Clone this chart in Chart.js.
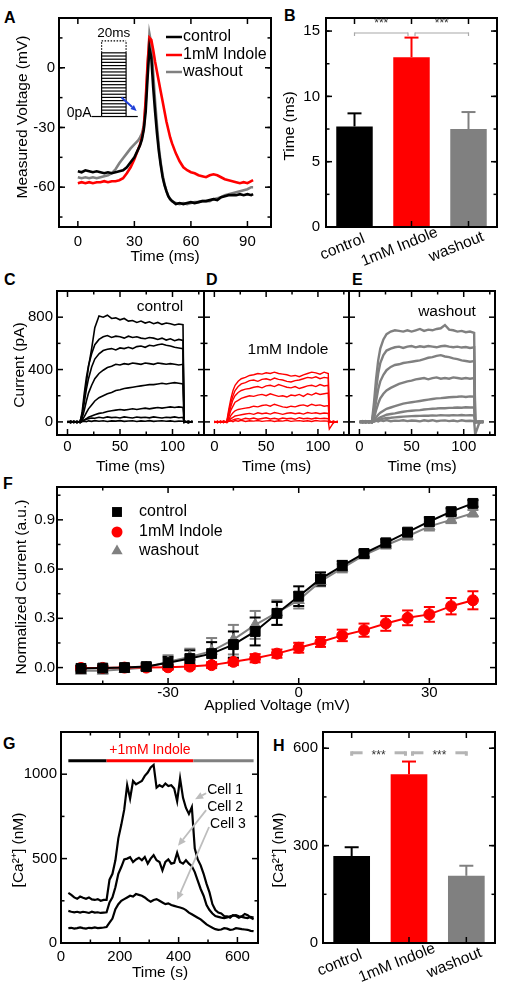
<!DOCTYPE html>
<html>
<head>
<meta charset="utf-8">
<title>Indole figure</title>
<script src="https://cdn.jsdelivr.net/npm/chart.js@4.4.1/dist/chart.umd.min.js"></script>
<style>
  html, body { margin: 0; padding: 0; background: #fff; }
  #fig { position: relative; width: 507px; height: 989px; overflow: hidden; background: #fff; }
  #fig canvas { position: absolute; }
  .lt { position: absolute; font: bold 16px 'Liberation Sans', Arial, sans-serif; line-height: 16px; color: #000; }
</style>
</head>
<body>
<div id="fig">
  <div class="lt" style="left:4px;top:10px">A</div>
  <div class="lt" style="left:284px;top:8px">B</div>
  <div class="lt" style="left:4px;top:272px">C</div>
  <div class="lt" style="left:206px;top:272px">D</div>
  <div class="lt" style="left:352px;top:272px">E</div>
  <div class="lt" style="left:3px;top:476px">F</div>
  <div class="lt" style="left:3px;top:736px">G</div>
  <div class="lt" style="left:273px;top:738px">H</div>
</div>
<script>
// ---------- data ----------

// A: membrane voltage traces (ms, mV)
const tA = [0,2,4,6,8,10,12,14,16,18,20,22,24,26,28,30,32,33,34,35,36,37,38,39,40,41,42,43,44,45,46,47,48,49,50,52,54,56,58,60,62,64,66,68,70,72,74,76,78,80,82,84,86,88,90,92,93];
const vControl = [-52,-52.5,-51.5,-52,-52.5,-52,-52.5,-53,-52.5,-53,-52.5,-52,-51.5,-50,-47.5,-45,-41,
  -39,-36,-31,-22,-5,10,5,-10,-22,-33,-42,-49,-55,-59,-62,-64.5,-66,-67,
  -68.5,-68,-68.5,-68,-67.5,-68,-67.5,-67,-67,-66.5,-66,-66.5,-65,-64.5,-64,-64,-64,-63.5,-64,-63.5,-64,-63.5];
const vIndole = [-58,-57.5,-58,-57.5,-58,-57.5,-57.5,-57,-57.5,-57,-57,-56.5,-55.5,-53,-50,-46,-41,
  -38.5,-35,-30,-16,2,15,14,9,3,-2,-7,-12,-17,-22,-27,-31,-35,-38,
  -43,-47,-50,-51.5,-52.5,-53,-54,-54.5,-55,-54,-53.5,-54,-55,-56,-56.5,-57,-57.5,-58,-57.5,-58,-57,-56.5];
const vWash = [-55,-55.5,-55,-55.5,-55,-55.5,-55,-54.5,-54,-53,-51,-48,-45.5,-43,-40.5,-38.5,-36.5,
  -35,-33,-29,-18,0,17,12,-3,-17,-29,-40,-48,-54,-58.5,-62,-64.5,-66,-67,
  -68,-68.5,-68,-68.5,-68,-67.5,-67.5,-67,-67,-67,-66,-65.5,-65,-64,-63.5,-63,-62.5,-62,-61.5,-61,-60,-60];
const ticksAx = [0, 30, 60, 90];
const ticksAy = [-60, -30, 0];
// inset: current step protocol, drawn in the voltage axes
const stimT = [7.3, 12.6, 25.6, 31.8];
const stimLevels = [-24.5,-22.9,-21.3,-19.7,-18.1,-16.5,-14.9,-13.3,-11.7,-10.1,-8.5,-6.9,-5.3,-3.7,-2.1,-0.5,1.1,2.7,4.3,5.9,7.5];

// B: time to threshold
const groups = ['control', '1mM Indole', 'washout'];
const timeMean = [7.7, 13.0, 7.5];
const timeErr = [1.0, 1.5, 1.3];
const ticksBy = [0, 5, 10, 15];

// C-E: current traces (ms, pA)
const tCur = [0,3,6,9,12,14,16,18,20,23,26,30,34,38,42,46,50,54,58,62,66,70,74,78,82,86,90,94,98,102,106,110,111,115,119];
const curControl = [
  [5,-8,6,-5,3, 60,180,300,420,560,720, 810,800,815,790,795,780,790,770,775,760,770,755,765,750,760,745,755,750,740,748,742, 10,-5,5],
  [-4,6,-6,4,-3, 80,220,340,430,520,590, 630,650,660,645,655,650,640,655,645,650,640,635,645,640,630,640,625,635,620,630,622, 5,-5,3],
  [3,-5,5,-4,6, 50,150,250,330,420,480, 520,545,555,560,550,565,560,570,560,575,580,570,585,580,590,595,585,580,570,565,560, -3,5,-4],
  [-5,4,-3,5,-4, 30,90,160,220,280,330, 370,395,415,425,440,435,445,440,450,445,440,450,445,440,450,445,440,445,440,435,440, 4,-3,5],
  [4,-4,3,-5,5, 15,40,70,100,130,160, 185,200,215,225,240,245,255,260,265,270,275,280,285,285,290,295,290,295,300,295,290, -4,5,-3],
  [-3,5,-4,3,-5, 5,15,25,35,45,55, 65,70,80,85,90,95,90,95,100,95,100,105,100,105,110,105,110,115,110,115,110, 3,-4,4],
  [5,-3,4,-5,3, 8,15,20,25,30,28, 35,30,38,33,36,30,38,34,30,37,33,36,31,38,34,30,36,33,38,32,35, -5,4,-3],
  [-4,5,-3,4,-5, 3,6,2,8,4,10, 5,9,3,8,6,10,4,7,9,3,8,5,10,4,7,9,5,8,3,6,5, 4,-5,3]
];
const curIndole = [
  [4,-6,5,-4,6, 100,180,240,280,310,330, 340,355,360,370,365,375,370,380,370,365,360,350,355,345,360,370,380,375,365,380,370, 8,-6,4],
  [-5,5,-4,6,-3, 80,150,200,240,270,290, 300,315,320,310,325,330,320,335,325,320,310,305,315,320,330,340,335,345,330,340,335, -4,5,-5],
  [3,-4,6,-5,4, 60,120,170,200,225,240, 250,255,265,270,260,275,280,270,285,275,265,260,270,255,265,275,280,270,285,275,280, 5,-4,3],
  [-4,5,-5,3,-6, 40,90,120,150,165,180, 190,200,195,205,210,200,215,205,195,200,190,205,200,210,195,215,205,220,210,215,220, -5,4,-4],
  [5,-4,4,-5,5, 20,50,70,85,95,100, 105,110,120,115,125,130,120,135,125,115,110,120,115,125,130,120,135,125,130,120,125, 4,-5,5],
  [-3,4,-5,6,-4, 10,25,35,45,50,55, 60,65,58,70,62,68,60,72,65,58,66,70,62,68,60,72,65,70,62,68,65, -4,5,-4],
  [4,-5,3,-4,5, 5,10,15,20,25,18, 28,22,30,20,26,32,22,28,20,30,24,28,20,32,24,28,22,30,25,28,24, 5,-4,4],
  [-5,4,-4,5,-3, 4,8,2,10,5,12, 3,9,6,11,4,8,10,3,9,6,12,4,8,10,5,9,3,11,6,8,5, -55,-5,4]
];
const curWash = [
  [5,-5,6,-4,4, 150,330,470,560,630,670, 690,700,695,690,700,690,700,710,695,705,700,710,715,740,705,700,690,695,685,690,680, 5,-5,4],
  [-4,6,-5,5,-3, 100,250,370,450,510,545, 560,570,575,565,575,580,570,578,572,580,575,570,578,582,575,570,575,568,572,565,570, -4,5,-4],
  [4,-4,5,-5,6, 60,160,250,310,360,395, 420,435,440,450,455,460,465,470,480,490,495,505,510,500,495,485,480,470,465,460,465, 4,-5,5],
  [-5,5,-4,4,-5, 30,90,140,180,215,240, 260,275,290,300,310,315,325,330,335,325,335,340,330,335,330,340,335,330,335,330,335, -5,4,-5],
  [5,-4,5,-5,4, 10,35,55,70,85,100, 110,120,130,140,145,150,155,160,165,170,175,180,182,185,188,190,192,195,190,195,193, 5,-4,4],
  [-4,5,-5,4,-4, 5,15,25,35,45,55, 60,65,72,78,82,85,88,90,95,98,100,102,105,104,107,108,110,108,112,110,110, -5,5,-4],
  [4,-5,4,-3,5, 3,8,15,20,25,30, 32,35,38,40,42,44,45,46,48,47,50,48,52,50,49,52,50,53,50,52,50, 4,-4,5],
  [-4,4,-5,5,-4, 5,10,4,12,6,14, 5,10,8,13,6,11,9,4,12,7,13,5,10,12,6,11,4,12,7,9,6, -95,-5,4]
];
const ticksCurX = [0, 50, 100];
const ticksCurY = [0, 400, 800];

// F: I-V relation
const voltF = [-50,-45,-40,-35,-30,-25,-20,-15,-10,-5,0,5,10,15,20,25,30,35,40];
const normControl = [-0.005,-0.003,0.0,0.006,0.03,0.055,0.085,0.14,0.22,0.33,0.435,0.54,0.62,0.695,0.76,0.825,0.89,0.95,1.0];
const errControl = [0.015,0.015,0.015,0.02,0.035,0.05,0.07,0.08,0.085,0.07,0.06,0.04,0.03,0.02,0.02,0.02,0.025,0.02,0.02];
const normIndole = [-0.002,-0.002,0.0,0.0,0.002,0.006,0.015,0.035,0.057,0.085,0.121,0.156,0.196,0.228,0.269,0.303,0.324,0.374,0.41];
const errIndole = [0.01,0.01,0.01,0.012,0.015,0.015,0.018,0.02,0.025,0.025,0.03,0.03,0.035,0.04,0.045,0.045,0.045,0.05,0.055];
const normWash = [-0.02,-0.02,-0.01,0.0,0.035,0.065,0.1,0.17,0.26,0.335,0.41,0.525,0.605,0.685,0.745,0.8,0.86,0.9,0.94];
const errWash = [0.015,0.015,0.015,0.02,0.04,0.05,0.08,0.09,0.085,0.075,0.05,0.03,0.025,0.02,0.02,0.02,0.025,0.02,0.02];
const ticksFx = [-30, 0, 30];
const ticksFy = [0, 0.3, 0.6, 0.9];

// G: calcium imaging (s, nM)
const tG = [25,35,45,55,65,75,85,95,105,115,125,135,145,155,165,175,185,195,205,215,225,235,245,255,265,275,285,295,305,315,325,335,345,355,365,375,385,395,405,415,425,435,445,455,465,475,485,495,505,515,525,535,545,555,565,575,585,595,605,615,625,635,645,655];
const cell1 = [297,285,270,262,275,268,262,270,258,255,260,250,255,255,
  375,410,490,620,700,790,935,855,960,940,
  950,960,990,1010,1040,1055,920,935,925,945,
  930,935,915,840,975,860,800,765,805,560,
  495,460,410,350,300,230,195,180,175,160,
  158,150,165,160,150,158,172,165,150,140];
const cell2 = [190,185,182,185,180,185,182,178,185,180,182,178,180,182,
  240,270,330,410,450,495,500,508,480,495,
  505,490,510,470,500,520,490,480,430,480,
  495,470,475,535,480,470,490,470,455,420,
  370,320,280,225,195,175,160,155,150,148,
  152,158,162,165,158,155,150,148,155,150];
const cell3 = [88,90,85,88,92,88,85,90,88,92,88,90,92,95,
  120,145,200,230,250,260,270,280,275,290,
  285,280,270,255,245,255,260,250,240,230,
  235,225,220,215,210,205,195,180,170,160,
  150,140,125,110,100,90,82,78,80,88,
  85,78,80,88,85,82,80,78,72,70];
const indoleBar = [25, 155, 450, 655];   // start, indole on, indole off, end (s)
const ticksGx = [0, 200, 400, 600];
const ticksGy = [0, 500, 1000];

// H: calcium level
const caMean = [268, 520, 207];
const caErr = [27, 39, 31];
const ticksHy = [0, 300, 600];

// ---------- helpers ----------
const FONT = "'Liberation Sans', Arial, Helvetica, sans-serif";
const BLACK = '#000000', RED = '#ff0000', GRAY = '#808080';
const groupColors = [BLACK, RED, GRAY];

Chart.defaults.font.family = FONT;
Chart.defaults.font.size = 15;
Chart.defaults.color = '#000';
Chart.defaults.animation = false;
Chart.defaults.responsive = false;
Chart.defaults.maintainAspectRatio = false;
Chart.defaults.plugins.legend.display = false;
Chart.defaults.plugins.tooltip.enabled = false;
Chart.defaults.elements.point.radius = 0;
Chart.defaults.elements.line.tension = 0;

const fig = document.getElementById('fig');

function makeCanvas(frame, m) {
  const c = document.createElement('canvas');
  const w = frame.r - frame.l + m.l + m.r, h = frame.b - frame.t + m.t + m.b;
  c.width = w; c.height = h;
  c.style.left = (frame.l - m.l) + 'px';
  c.style.top = (frame.t - m.t) + 'px';
  c.style.width = w + 'px'; c.style.height = h + 'px';
  c.dataset.ox = frame.l - m.l; c.dataset.oy = frame.t - m.t;
  fig.appendChild(c);
  return c;
}

function range(a, b, step) {
  const out = [];
  for (let v = a; v <= b + 1e-9; v += step) out.push(+v.toFixed(6));
  return out;
}

const xy = (xs, ys) => xs.map((x, i) => ({x, y: ys[i]}));

function fixSize(prop, size) {
  return ax => {
    ax[prop] = size;
    ax.paddingLeft = 0; ax.paddingRight = 0; ax.paddingTop = 0; ax.paddingBottom = 0;
  };
}

function linX(min, max, labels, h, pad, show = true) {
  return {
    type: 'linear', position: 'bottom', min, max,
    grid: {display: false, drawTicks: false}, border: {display: false},
    ticks: {display: show, padding: pad, maxRotation: 0, autoSkip: false, callback: v => String(v)},
    afterBuildTicks: ax => { ax.ticks = labels.map(v => ({value: v})); },
    afterFit: fixSize('height', h)
  };
}

function linY(min, max, labels, w, pad, show = true, fmt = v => String(v)) {
  return {
    type: 'linear', position: 'left', min, max,
    grid: {display: false, drawTicks: false}, border: {display: false},
    ticks: {display: show, padding: pad, autoSkip: false, callback: fmt},
    afterBuildTicks: ax => { ax.ticks = labels.map(v => ({value: v})); },
    afterFit: fixSize('width', w)
  };
}

function seg(ctx, x1, y1, x2, y2) {
  ctx.beginPath(); ctx.moveTo(x1, y1); ctx.lineTo(x2, y2); ctx.stroke();
}

function txt(ctx, s, x, y, o = {}) {
  ctx.save();
  ctx.font = (o.bold ? 'bold ' : '') + (o.size || 15) + 'px ' + FONT;
  ctx.fillStyle = o.color || '#000';
  ctx.textAlign = o.align || 'center';
  ctx.textBaseline = o.base || 'middle';
  ctx.translate(x, y);
  if (o.rot) ctx.rotate(o.rot);
  ctx.fillText(s, 0, 0);
  ctx.restore();
}

// text placed in page coordinates
function ptxt(chart, s, x, y, o) {
  txt(chart.ctx, s, x - chart.canvas.dataset.ox, y - chart.canvas.dataset.oy, o);
}

function yTitle(chart, s, x, y) { ptxt(chart, s, x, y, {size: 15.5, rot: -Math.PI / 2}); }
function xTitle(chart, s, x, y) { ptxt(chart, s, x, y, {size: 15.5}); }

// box with inward ticks on all four sides
function drawFrame(chart, spec) {
  const {ctx, chartArea: a} = chart;
  const xs = chart.scales.x, ys = chart.scales.y;
  ctx.save();
  ctx.strokeStyle = '#000';
  ctx.lineWidth = 1.5;
  const tx = (vals, len) => vals.forEach(v => {
    const p = xs.getPixelForValue(v);
    if (p < a.left + 2 || p > a.right - 2) return;
    seg(ctx, p, a.bottom, p, a.bottom - len);
    seg(ctx, p, a.top, p, a.top + len);
  });
  const ty = (vals, len) => vals.forEach(v => {
    const p = ys.getPixelForValue(v);
    if (p < a.top + 2 || p > a.bottom - 2) return;
    seg(ctx, a.left, p, a.left + len, p);
    seg(ctx, a.right, p, a.right - len, p);
  });
  tx(spec.xMinor || [], 3.5); tx(spec.xMajor || [], 6);
  ty(spec.yMinor || [], 3.5); ty(spec.yMajor || [], 6);
  ctx.lineWidth = 2;
  ctx.strokeRect(a.left, a.top, a.right - a.left, a.bottom - a.top);
  ctx.restore();
}

function arrow(ctx, x1, y1, x2, y2, color, lw, head) {
  const ang = Math.atan2(y2 - y1, x2 - x1);
  const bx = x2 - head * Math.cos(ang), by = y2 - head * Math.sin(ang);
  ctx.save();
  ctx.strokeStyle = color; ctx.fillStyle = color; ctx.lineWidth = lw;
  seg(ctx, x1, y1, bx, by);
  ctx.beginPath();
  ctx.moveTo(x2, y2);
  ctx.lineTo(bx + head * 0.45 * Math.sin(ang), by - head * 0.45 * Math.cos(ang));
  ctx.lineTo(bx - head * 0.45 * Math.sin(ang), by + head * 0.45 * Math.cos(ang));
  ctx.closePath(); ctx.fill();
  ctx.restore();
}

function marker(ctx, style, x, y, r, color) {
  ctx.save();
  ctx.fillStyle = color;
  ctx.beginPath();
  if (style === 'rect') {
    const s = r * Math.SQRT1_2;
    ctx.rect(x - s, y - s, 2 * s, 2 * s);
  } else if (style === 'circle') {
    ctx.arc(x, y, r, 0, Math.PI * 2);
  } else {
    ctx.moveTo(x, y - r);
    ctx.lineTo(x + 0.866 * r, y + 0.5 * r);
    ctx.lineTo(x - 0.866 * r, y + 0.5 * r);
    ctx.closePath();
  }
  ctx.fill();
  ctx.restore();
}

// ---------- A: action potentials ----------
const frameA = {l: 59, t: 18, r: 271, b: 227};
const mA = {l: 45, t: 18, r: 8, b: 40};
new Chart(makeCanvas(frameA, mA), {
  type: 'line',
  data: {datasets: [
    {label: 'control', data: xy(tA, vControl), borderColor: BLACK, borderWidth: 2.6},
    {label: '1mM Indole', data: xy(tA, vIndole), borderColor: RED, borderWidth: 2.6},
    {label: 'washout', data: xy(tA, vWash), borderColor: GRAY, borderWidth: 2.6}
  ]},
  options: {
    layout: {padding: {left: 0, top: mA.t, right: mA.r, bottom: 0}},
    scales: {x: linX(-10, 102.5, ticksAx, mA.b, 6), y: linY(-80, 25, ticksAy, mA.l, 4)}
  },
  plugins: [{
    id: 'deco',
    afterDraw(chart) {
      const {ctx} = chart;
      const xs = chart.scales.x, ys = chart.scales.y;
      drawFrame(chart, {xMajor: ticksAx, yMajor: ticksAy, yMinor: range(-75, 15, 15)});
      // stimulus inset
      ctx.save();
      ctx.strokeStyle = '#000'; ctx.lineWidth = 1.2;
      const X = v => xs.getPixelForValue(v), Y = v => ys.getPixelForValue(v);
      const base = stimLevels[0], top = stimLevels[stimLevels.length - 1];
      seg(ctx, X(stimT[0]), Y(base), X(stimT[1]), Y(base));
      seg(ctx, X(stimT[2]), Y(base), X(stimT[3]), Y(base));
      seg(ctx, X(stimT[1]), Y(base), X(stimT[1]), Y(top));
      seg(ctx, X(stimT[2]), Y(base), X(stimT[2]), Y(top));
      stimLevels.forEach(v => seg(ctx, X(stimT[1]), Y(v), X(stimT[2]), Y(v)));
      ctx.setLineDash([1.5, 1.5]);
      seg(ctx, X(stimT[1]), Y(top), X(stimT[1]), Y(13.5));
      seg(ctx, X(stimT[2]), Y(top), X(stimT[2]), Y(13.5));
      seg(ctx, X(stimT[1]), Y(13.5), X(stimT[2]), Y(13.5));
      ctx.restore();
      txt(ctx, '20ms', (X(stimT[1]) + X(stimT[2])) / 2, Y(13.5) - 1, {size: 13.5, base: 'bottom'});
      txt(ctx, '0pA', X(stimT[0]), Y(base) - 3, {size: 14, align: 'right'});
      // blue arrow
      arrow(ctx, X(23.2), Y(-15), X(31.2), Y(-21.7), '#1f3fd8', 2, 6);
      // legend
      chart.data.datasets.forEach((d, i) => {
        const y = [37, 55, 72][i];
        ctx.save(); ctx.strokeStyle = d.borderColor; ctx.lineWidth = 2.5;
        seg(ctx, 166 - chart.canvas.dataset.ox, y, 182 - chart.canvas.dataset.ox, y);
        ctx.restore();
        ptxt(chart, d.label, 183, y, {size: 16, align: 'left'});
      });
      yTitle(chart, 'Measured Voltage (mV)', 23, 117);
      xTitle(chart, 'Time (ms)', 165, 257);
    }
  }]
});

// ---------- bar panels (B, H) ----------
function barPanel(frame, m, means, errs, yMin, yMax, yLabels, yPad, minorStep, sig, titleY, titleX) {
  return new Chart(makeCanvas(frame, m), {
    type: 'bar',
    data: {labels: groups, datasets: [{data: means, backgroundColor: groupColors, borderWidth: 0,
      barPercentage: 0.64, categoryPercentage: 1}]},
    options: {
      layout: {padding: {left: 0, top: m.t, right: m.r, bottom: 0}},
      scales: {
        x: {type: 'category', grid: {display: false, drawTicks: false}, border: {display: false},
            ticks: {display: false}, afterFit: fixSize('height', m.b)},
        y: linY(yMin, yMax, yLabels, m.l, yPad)
      }
    },
    plugins: [{
      id: 'deco',
      afterDatasetsDraw(chart) {
        const {ctx} = chart;
        const xs = chart.scales.x, ys = chart.scales.y;
        means.forEach((v, i) => {
          const x = xs.getPixelForValue(i);
          ctx.save(); ctx.strokeStyle = groupColors[i]; ctx.lineWidth = 2;
          seg(ctx, x, ys.getPixelForValue(v), x, ys.getPixelForValue(v + errs[i]));
          seg(ctx, x - 7, ys.getPixelForValue(v + errs[i]), x + 7, ys.getPixelForValue(v + errs[i]));
          ctx.restore();
        });
      },
      afterDraw(chart) {
        const {ctx, chartArea: a} = chart;
        const xs = chart.scales.x, ys = chart.scales.y;
        drawFrame(chart, {xMajor: [0, 1, 2], yMajor: yLabels, yMinor: range(yMin, yMax, minorStep)});
        groups.forEach((g, i) => txt(ctx, g, xs.getPixelForValue(i) - 12, a.bottom + 20,
          {size: 15.5, rot: -22 * Math.PI / 180}));
        // significance brackets
        const y = ys.getPixelForValue(sig.level);
        sig.pairs.forEach(([i, j]) => {
          const x1 = xs.getPixelForValue(i) + (i === 1 ? 3.5 : 0);
          const x2 = xs.getPixelForValue(j) - (j === 1 ? 3.5 : 0);
          const xm = (x1 + x2) / 2;
          ctx.save();
          ctx.strokeStyle = sig.color; ctx.lineWidth = sig.width;
          if (sig.inline) {
            seg(ctx, x1, y, xm - 16, y);
            seg(ctx, xm + 16, y, x2, y);
          } else {
            seg(ctx, x1, y, x2, y);
          }
          seg(ctx, x1, y - sig.width / 2, x1, y + 3);
          seg(ctx, x2, y - sig.width / 2, x2, y + 3);
          ctx.restore();
          txt(ctx, '***', xm, sig.inline ? y + 3 : y - 3, {size: 12, color: '#333', base: sig.inline ? 'middle' : 'bottom'});
        });
        yTitle(chart, titleY[0], titleY[1], titleY[2]);
      }
    }]
  });
}

barPanel({l: 326, t: 18, r: 497, b: 227}, {l: 45, t: 18, r: 8, b: 45},
  timeMean, timeErr, 0, 16, ticksBy, 6, 2.5,
  {pairs: [[0, 1], [1, 2]], level: 14.85, color: '#a8a8a8', width: 1.2, inline: false},
  ['Time (ms)', 290, 126]);

// ---------- C, D, E: current traces ----------
function currentPanel(frame, m, traces, color, width, showY, label, labelPos) {
  return new Chart(makeCanvas(frame, m), {
    type: 'line',
    data: {datasets: traces.map(v => ({data: xy(tCur, v), borderColor: color, borderWidth: width}))},
    options: {
      layout: {padding: {left: 0, top: m.t, right: m.r, bottom: 0}},
      scales: {x: linX(-10, 130, ticksCurX, m.b, 3), y: linY(-100, 1000, ticksCurY, m.l, 4, showY)}
    },
    plugins: [{
      id: 'deco',
      afterDraw(chart) {
        drawFrame(chart, {xMajor: ticksCurX, xMinor: [25, 75, 125], yMajor: ticksCurY, yMinor: [200, 600]});
        ptxt(chart, label, labelPos[0], labelPos[1], {size: 15.5});
        xTitle(chart, 'Time (ms)', (frame.l + frame.r) / 2, 467);
        if (showY) yTitle(chart, 'Current (pA)', 20, 365);
      }
    }]
  });
}

currentPanel({l: 57, t: 291, r: 204, b: 435}, {l: 46, t: 6, r: 2, b: 41}, curControl, BLACK, 1.6, true, 'control', [160, 307]);
currentPanel({l: 204, t: 291, r: 349, b: 435}, {l: 3, t: 6, r: 2, b: 41}, curIndole, RED, 1.4, false, '1mM Indole', [288, 350]);
currentPanel({l: 349, t: 291, r: 495, b: 435}, {l: 3, t: 6, r: 4, b: 41}, curWash, GRAY, 2.4, false, 'washout', [447, 312]);

// ---------- F: I-V curves ----------
const frameF = {l: 57, t: 487, r: 496, b: 684};
const mF = {l: 44, t: 8, r: 8, b: 31};
const seriesF = [
  {label: 'control', y: normControl, err: errControl, color: BLACK, style: 'rect', r: 7},
  {label: '1mM Indole', y: normIndole, err: errIndole, color: RED, style: 'circle', r: 5.5},
  {label: 'washout', y: normWash, err: errWash, color: GRAY, style: 'triangle', r: 6.5}
];
new Chart(makeCanvas(frameF, mF), {
  type: 'line',
  data: {datasets: seriesF.map(s => ({
    label: s.label, data: xy(voltF, s.y), borderColor: s.color, backgroundColor: s.color,
    borderWidth: 2, pointStyle: s.style, pointRadius: s.r, pointBorderWidth: 1
  }))},
  options: {
    layout: {padding: {left: 0, top: mF.t, right: mF.r, bottom: 0}},
    scales: {x: linX(-55.5, 45.3, ticksFx, mF.b, 0), y: linY(-0.1, 1.1, ticksFy, mF.l, 2, true, v => v.toFixed(1))}
  },
  plugins: [{
    id: 'deco',
    beforeDatasetsDraw(chart) {
      const {ctx} = chart;
      const xs = chart.scales.x, ys = chart.scales.y;
      [2, 1, 0].forEach(k => {
        const s = seriesF[k];
        ctx.save(); ctx.strokeStyle = s.color; ctx.lineWidth = 2;
        voltF.forEach((v, i) => {
          const x = xs.getPixelForValue(v);
          const y1 = ys.getPixelForValue(s.y[i] - s.err[i]), y2 = ys.getPixelForValue(s.y[i] + s.err[i]);
          seg(ctx, x, y1, x, y2);
          seg(ctx, x - 5.5, y1, x + 5.5, y1);
          seg(ctx, x - 5.5, y2, x + 5.5, y2);
        });
        ctx.restore();
      });
    },
    afterDraw(chart) {
      const {ctx} = chart;
      const ox = chart.canvas.dataset.ox, oy = chart.canvas.dataset.oy;
      drawFrame(chart, {xMajor: ticksFx, xMinor: [-45, -15, 15], yMajor: ticksFy, yMinor: [0.15, 0.45, 0.75, 1.05]});
      seriesF.forEach((s, i) => {
        const y = [512, 532, 551][i];
        marker(ctx, s.style, 117 - ox, y - oy, s.r, s.color);
        ptxt(chart, s.label, 139, y, {size: 16, align: 'left'});
      });
      yTitle(chart, 'Normalized Current (a.u.)', 22, 587);
      xTitle(chart, 'Applied Voltage (mV)', 277, 706);
    }
  }]
});

// ---------- G: calcium traces ----------
const frameG = {l: 61, t: 732, r: 258, b: 943};
const mG = {l: 51, t: 10, r: 4, b: 40};
new Chart(makeCanvas(frameG, mG), {
  type: 'line',
  data: {datasets: [cell1, cell2, cell3].map((c, i) => ({label: 'Cell ' + (i + 1), data: xy(tG, c), borderColor: BLACK, borderWidth: 2.2}))},
  options: {
    layout: {padding: {left: 0, top: mG.t, right: mG.r, bottom: 0}},
    scales: {x: linX(0, 670, ticksGx, mG.b, 5), y: linY(0, 1250, ticksGy, mG.l, 4)}
  },
  plugins: [{
    id: 'deco',
    afterDraw(chart) {
      const {ctx} = chart;
      const xs = chart.scales.x, ys = chart.scales.y;
      const X = v => xs.getPixelForValue(v), Y = v => ys.getPixelForValue(v);
      drawFrame(chart, {xMajor: ticksGx, xMinor: [100, 300, 500], yMajor: ticksGy, yMinor: [250, 750]});
      // treatment bar
      const barY = Y(1080);
      ctx.save(); ctx.lineWidth = 3;
      [BLACK, RED, GRAY].forEach((c, i) => {
        ctx.strokeStyle = c;
        seg(ctx, X(indoleBar[i]), barY, X(indoleBar[i + 1]), barY);
      });
      ctx.restore();
      txt(ctx, '+1mM Indole', X((indoleBar[1] + indoleBar[2]) / 2), Y(1140), {size: 14, color: RED});
      // cell labels and arrows
      const labels = [[497, 905, 456, 852], [497, 805, 398, 576], [507, 705, 395, 254]];
      labels.forEach(([lx, ly, ax, ay], i) => {
        txt(ctx, 'Cell ' + (i + 1), X(lx), Y(ly), {size: 14, align: 'left'});
        arrow(ctx, X(lx) - 1, Y(ly) + 3, X(ax), Y(ay), '#bdbdbd', 1.8, 8);
      });
      yTitle(chart, '[Ca²⁺] (nM)', 19, 850);
      xTitle(chart, 'Time (s)', 160, 973);
    }
  }]
});

// ---------- H: calcium bars ----------
barPanel({l: 323, t: 732, r: 495, b: 943}, {l: 53, t: 10, r: 8, b: 46},
  caMean, caErr, 0, 650, ticksHy, 5, 150,
  {pairs: [[0, 1], [1, 2]], level: 586, color: '#b4b4b4', width: 3, inline: true},
  ['[Ca²⁺] (nM)', 279, 850]);
</script>
</body>
</html>
